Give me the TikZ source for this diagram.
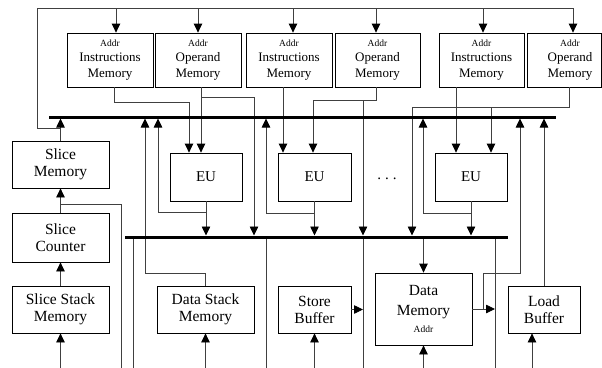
\documentclass[tikz,border=0pt]{standalone}
\usepackage{fontspec}
\setmainfont{Liberation Serif}
\usetikzlibrary{arrows.meta}
\newcommand\addrtxt{{\fontsize{9.5}{11}\selectfont Addr}}
\begin{document}
\begin{tikzpicture}[x=1pt,y=-1pt,
  box/.style={draw=black, line width=0.8pt, inner sep=0pt, align=center},
  topbox/.style={box, minimum width=86pt, minimum height=54pt, font=\fontsize{13}{15.5}\selectfont},
  toptext/.style={align=center, inner sep=0pt, font=\fontsize{13}{15.5}\selectfont},
  eubox/.style={box, minimum width=72pt, minimum height=48pt, font=\fontsize{15}{17}\selectfont},
  lowbox/.style={box, minimum width=97pt, minimum height=47pt, font=\fontsize{15.5}{17}\selectfont},
  wire/.style={draw=black!75, line width=0.8pt},
  arr/.style={wire, -{Triangle[length=9pt,width=8.5pt,color=black]}},
  bus/.style={draw=black, line width=3pt}]
\useasboundingbox (0,0) rectangle (602,367);

% ---- memories of the execution units ----
\node[topbox] (im1) at (110,60) {\addrtxt\\Instructions\\Memory};
\node[topbox] (om1) at (198,60) {\addrtxt\\Operand\\Memory};
\node[topbox] (im2) at (289,60) {\addrtxt\\Instructions\\Memory};
\node[topbox, minimum width=85pt] (om2) at (377.5,60) {\addrtxt\\Operand\\Memory};
\node[topbox, minimum width=85pt] (im3) at (481.5,60) {\addrtxt\\Instructions\\Memory};
\node[topbox, minimum width=74pt] (om3) at (564,60) {};
\node[toptext] (om3t) at (570,60) {\addrtxt\\Operand\\Memory};

% ---- execution units ----
\node[eubox] (eu1) at (206,177) {EU};
\node[eubox, minimum width=73pt] (eu2) at (314.5,177) {EU};
\node[eubox] (eu3) at (471,177) {EU};
\node[font=\fontsize{15}{17}\selectfont, inner sep=0pt] (dots) at (387,179) {.\hspace{4pt}.\hspace{4pt}.};

% ---- lower blocks ----
\node[lowbox] (sm) at (60.5,164.5) {Slice\\Memory};
\node[lowbox, minimum height=49pt] (sc) at (60.5,237.5) {Slice\\Counter};
\node[lowbox] (ssm) at (60.5,309.5) {Slice Stack\\Memory};
\node[lowbox] (dsm) at (205.5,309.5) {Data Stack\\Memory};
\node[lowbox, minimum width=73pt] (sb) at (314.5,309.5) {Store\\Buffer};
\node[lowbox, minimum height=72pt, font=\fontsize{15.5}{19.5}\selectfont] (dm) at (423.5,309) {Data\\Memory\\[-2pt]\addrtxt};
\node[lowbox, minimum width=72pt] (lb) at (544,309.5) {Load\\Buffer};

% ---- reference coordinates ----
\coordinate (b1w) at (49,117);  \coordinate (b1e) at (556,117);
\coordinate (b2w) at (125,237); \coordinate (b2e) at (508,237);
\coordinate (b1s) at (0,118.5);
\coordinate (b2n) at (0,235.5);
\coordinate (b2s) at (0,238.5);
\coordinate (bot) at (0,368);

% ---- address line from the slice memory ----
\coordinate (tl) at (37,8);  \coordinate (tr) at (573,8);
\coordinate (tlb) at (37,128); \coordinate (slj) at (61,128);
\draw[wire] (slj) -- (tlb) -- (tl) -- (tr);
\coordinate (d1) at (116,8); \coordinate (d2) at (198,8);
\coordinate (d3) at (293,8); \coordinate (d4) at (376,8);
\coordinate (d5) at (483,8); \coordinate (d6) at (573,8);
\draw[arr] (d1) -- (d1 |- im1.north);
\draw[arr] (d2) -- (d2 |- om1.north);
\draw[arr] (d3) -- (d3 |- im2.north);
\draw[arr] (d4) -- (d4 |- om2.north);
\draw[arr] (d5) -- (d5 |- im3.north);
\draw[arr] (d6) -- (d6 |- om3.north);

% ---- slice column ----
\draw[arr] (sm.north) -- (sm.north |- b1s);
\draw[arr] (sc.north) -- (sm.south);
\draw[arr] (ssm.north) -- (sc.south);
\draw[arr] (ssm.south |- bot) -- (ssm.south);
\coordinate (r121) at (121,204);
\draw[wire] (r121 |- bot) -- (r121) -- (r121 -| sm.south);
\coordinate (v133) at (133,0);
\draw[wire] (v133 |- b2w) -- (v133 |- bot);

% ---- data stack ----
\coordinate (ds1) at (145,273);
\draw[arr] (dsm.north) -- (dsm.north |- ds1) -- (ds1) -- (ds1 |- b1s);
\draw[arr] (dsm.south |- bot) -- (dsm.south);

% ---- EU 1 ----
\coordinate (i1o) at (114,102); \coordinate (e1a) at (189,0);
\draw[arr] (i1o |- im1.south) -- (i1o) -- (i1o -| e1a) -- (e1a |- eu1.north);
\coordinate (o1o) at (201,97); \coordinate (o1d) at (254,97);
\draw[arr] (o1o |- om1.south) -- (o1o |- eu1.north);
\draw[arr] (o1o) -- (o1d) -- (o1d |- b2n);
\draw[arr] (eu1.south) -- (eu1.south |- b2n);
\coordinate (e1f) at (158,212);
\draw[arr] (e1f -| eu1.south) -- (e1f) -- (e1f |- b1s);

% ---- EU 2 ----
\coordinate (i2o) at (283,0);
\draw[arr] (i2o |- im2.south) -- (i2o |- eu2.north);
\coordinate (o2o) at (376,100); \coordinate (o2e) at (313,100); \coordinate (o2d) at (363,100);
\draw[arr] (o2o |- om2.south) -- (o2o) -- (o2e) -- (o2e |- eu2.north);
\draw[arr] (o2d) -- (o2d |- b2n);
\draw[arr] (eu2.south) -- (eu2.south |- b2n);
\coordinate (e2f) at (266,213);
\draw[arr] (e2f -| eu2.south) -- (e2f) -- (e2f |- b1s);
\draw[wire] (e2f |- b2w) -- (e2f |- bot);

% ---- store buffer ----
\draw[arr] (sb.south |- bot) -- (sb.south);
\draw[arr] (sb.east) -- (sb.east -| o2d);
\draw[wire] (o2d |- b2w) -- (o2d |- bot);

% ---- EU 3 ----
\coordinate (i3o) at (456,0);
\draw[arr] (i3o |- im3.south) -- (i3o |- eu3.north);
\coordinate (o3o) at (569,107); \coordinate (o3l) at (412,107); \coordinate (o3e) at (491,107);
\draw[wire] (o3o |- om3.south) -- (o3o) -- (o3l);
\draw[arr] (o3l) -- (o3l |- b2n);
\draw[arr] (o3e) -- (o3e |- eu3.north);
\draw[arr] (eu3.south) -- (eu3.south |- b2n);
\coordinate (e3f) at (423,213);
\draw[arr] (e3f -| eu3.south) -- (e3f) -- (e3f |- b1s);

% ---- data memory and load buffer ----
\draw[arr] (dm.north |- b2s) -- (dm.north);
\draw[arr] (dm.south |- bot) -- (dm.south);
\coordinate (v495) at (495,0);
\draw[wire] (v495 |- b2w) -- (v495 |- bot);
\draw[arr] (dm.east) -- (dm.east -| v495);
\coordinate (dmf) at (483,273); \coordinate (dmu) at (520,273);
\draw[arr] (dmf |- dm.east) -- (dmf) -- (dmu) -- (dmu |- b1s);
\draw[arr] (lb.north) -- (lb.north |- b1s);
\coordinate (lbin) at (532,0);
\draw[arr] (lbin |- bot) -- (lbin |- lb.south);

% ---- buses ----
\draw[bus] (b1w) -- (b1e);
\draw[bus] (b2w) -- (b2e);
\end{tikzpicture}
\end{document}
